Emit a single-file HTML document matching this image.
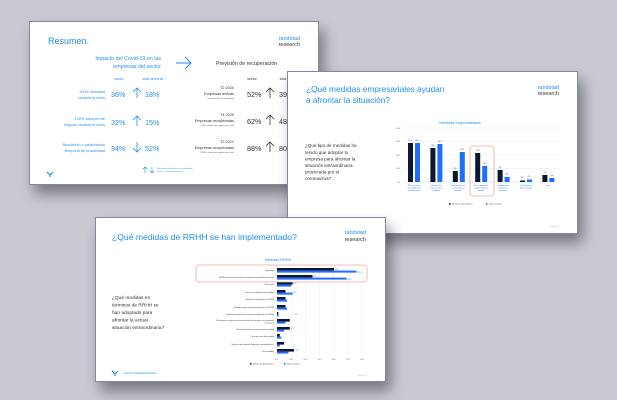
<!DOCTYPE html>
<html><head><meta charset="utf-8"><style>
html,body{margin:0;padding:0;background:#c9c8d3;}
svg{display:block;font-family:"Liberation Sans",sans-serif;}
</style></head><body>
<svg width="617" height="400" viewBox="0 0 617 400" xmlns="http://www.w3.org/2000/svg">
<defs>
<filter id="sh" x="-20%" y="-20%" width="150%" height="170%">
<feGaussianBlur in="SourceAlpha" stdDeviation="7"/>
<feOffset dx="5" dy="9"/>
<feComponentTransfer><feFuncA type="linear" slope="0.4"/></feComponentTransfer>
<feMerge><feMergeNode/><feMergeNode in="SourceGraphic"/></feMerge>
</filter>
</defs>
<rect width="617" height="400" fill="#c9c8d3"/>

<!-- SLIDE 1 -->
<rect x="29.5" y="21.5" width="289" height="163" fill="#fff" stroke="#7f8aa0" filter="url(#sh)"/>
<text x="48" y="44" font-size="9" fill="#1f8ef0">Resumen.</text>
<text x="300" y="40" font-size="5.5" fill="#1f8ef0" text-anchor="end">randstad</text>
<text x="300" y="46" font-size="5.5" fill="#333" text-anchor="end">research</text>
<text x="161" y="60" font-size="5.3" fill="#1f8ef0" text-anchor="end">Impacto del Covid-19 en las</text>
<text x="161" y="68" font-size="5.3" fill="#1f8ef0" text-anchor="end">empresas del sector</text>
<path d="M176 63 H191 M185 57 L191 63 L185 69" stroke="#1f8ef0" stroke-width="1" fill="none"/>
<text x="216" y="65" font-size="5.3" fill="#333">Previsión de recuperación</text>
<g font-size="3.5" fill="#1f8ef0" text-anchor="middle"><text x="119" y="80">sector</text><text x="153" y="80">total sectores</text></g>
<g font-size="3.5" fill="#333" text-anchor="middle"><text x="252" y="80">sector</text><text x="290" y="80">total sectores</text></g>
<g font-size="3.8" fill="#1f8ef0" text-anchor="end">
<text x="105" y="93">100% actividad</text><text x="105" y="99">durante la crisis</text>
<text x="105" y="120">100% volumen de</text><text x="105" y="126">negocio durante la crisis</text>
<text x="105" y="146">Reducción o paralización</text><text x="105" y="152">temporal de la actividad</text>
</g>
<g font-size="7.2" fill="#1f8ef0">
<text x="111" y="97">36%</text><text x="145" y="97">18%</text>
<text x="111" y="125">32%</text><text x="145" y="125">15%</text>
<text x="111" y="151">34%</text><text x="145" y="151">52%</text>
</g>
<g stroke="#1f8ef0" stroke-width="0.8" fill="none">
<path d="M137 98 V88 M133 92 L137 88 L141 92"/>
<path d="M137 126 V116 M133 120 L137 116 L141 120"/>
<path d="M137 142 V152 M133 148 L137 152 L141 148"/>
</g>
<g font-size="3.8" fill="#333" text-anchor="end">
<text x="234" y="89">T2 2020</text><text x="234" y="95">Empresas activas</text>
<text x="234" y="116">T4 2020</text><text x="234" y="122">Empresas recuperadas</text>
<text x="234" y="143">T2 2021</text><text x="234" y="149">Empresas recuperadas</text>
</g>
<g font-size="2" fill="#555" text-anchor="end">
<text x="234" y="99">(funcionando con normalidad)</text>
<text x="234" y="126">(100% volumen de negocio pre-crisis)</text>
<text x="234" y="153">(100% volumen de negocio pre-crisis)</text>
</g>
<g font-size="7.2" fill="#333">
<text x="247" y="97">52%</text><text x="279" y="97">39%</text>
<text x="247" y="124">62%</text><text x="279" y="124">48%</text>
<text x="247" y="151">88%</text><text x="279" y="151">80%</text>
</g>
<g stroke="#333" stroke-width="0.8" fill="none">
<path d="M270 98 V88 M266 92 L270 88 L274 92"/>
<path d="M270 125 V115 M266 119 L270 115 L274 119"/>
<path d="M270 152 V142 M266 146 L270 142 L274 146"/>
</g>
<path d="M47 172 L50 175 L53 172 M50 175 L50 177" stroke="#1f8ef0" stroke-width="1.2" fill="none"/>
<g stroke="#1f8ef0" stroke-width="0.6" fill="none"><path d="M145 173 V167 M143 169 L145 167 L147 169"/><path d="M152 167 V173 M150 171 L152 173 L154 171"/></g>
<g font-size="2" fill="#1f8ef0"><text x="157" y="169">Diferencia estadísticamente significativa</text><text x="157" y="172">al 95 % a nivel total sectores</text></g>

<!-- SLIDE 2 -->
<rect x="287.5" y="71.5" width="290" height="162" fill="#fff" stroke="#7f8aa0" filter="url(#sh)"/>
<text x="306" y="92" font-size="8.3" fill="#1f8ef0">¿Qué medidas empresariales ayudan</text>
<text x="306" y="103" font-size="8.3" fill="#1f8ef0">a afrontar la situación?</text>
<text x="559" y="89" font-size="5.5" fill="#1f8ef0" text-anchor="end">randstad</text>
<text x="559" y="95" font-size="5.5" fill="#333" text-anchor="end">research</text>
<g font-size="4.6" fill="#333">
<text x="305" y="147">¿Qué tipo de medidas ha</text>
<text x="305" y="154">tenido que adoptar tu</text>
<text x="305" y="160.5">empresa para afrontar la</text>
<text x="305" y="167">situación extraordinaria</text>
<text x="305" y="173.5">provocada por el</text>
<text x="305" y="180">coronavirus?</text>
</g>
<text x="460" y="124" font-size="4" fill="#1f8ef0" text-anchor="middle">Medidas empresariales</text>
<g stroke="#dde6f3" stroke-width="0.4"><path d="M403 128H560M403 141.5H560M403 155H560M403 168.5H560"/></g>
<path d="M403 182H560" stroke="#c8d0dc" stroke-width="0.4"/>
<g font-size="2" fill="#555" text-anchor="end"><text x="400" y="129">40%</text><text x="400" y="142">30%</text><text x="400" y="156">20%</text><text x="400" y="169">10%</text><text x="400" y="183">0%</text></g>
<g fill="#0b1633">
<rect x="408" y="143" width="5" height="39"/><rect x="430.4" y="148" width="5" height="34"/><rect x="452.8" y="171" width="5" height="11"/><rect x="475.2" y="153" width="5" height="29"/><rect x="497.6" y="170" width="5" height="12"/><rect x="520" y="180.5" width="5" height="1.5"/><rect x="542.4" y="175" width="5" height="7"/>
</g>
<g fill="#1f6fff">
<rect x="415" y="143" width="5" height="39"/><rect x="437.4" y="144" width="5" height="38"/><rect x="459.8" y="152" width="5" height="30"/><rect x="482.2" y="166" width="5" height="16"/><rect x="504.6" y="177" width="5" height="5"/><rect x="527" y="179.5" width="5" height="2.5"/><rect x="549.4" y="178" width="5" height="4"/>
</g>
<g font-size="1.8" fill="#333" text-anchor="middle">
<text x="410" y="141">29%</text><text x="417" y="141">29%</text><text x="433" y="146">25%</text><text x="440" y="142">28%</text><text x="455" y="169">8%</text><text x="462" y="150">22%</text><text x="478" y="151">21%</text><text x="485" y="164">12%</text><text x="500" y="168">9%</text><text x="507" y="175">4%</text><text x="522" y="178">1%</text><text x="529" y="177">2%</text><text x="545" y="173">5%</text><text x="552" y="176">3%</text>
</g>
<g font-size="1.9" fill="#1f6fff" text-anchor="middle">
<text x="414" y="186">Reservas para</text><text x="414" y="188.5">necesidades de</text><text x="414" y="191">mantenimiento</text>
<text x="436" y="186">Medidas de</text><text x="436" y="188.5">reducción de la</text><text x="436" y="191">actividad</text>
<text x="458" y="186">Paralización total</text><text x="458" y="188.5">o parcial de la</text><text x="458" y="191">actividad</text>
<text x="481" y="186">No he tenido que</text><text x="481" y="188.5">adoptar ninguna</text><text x="481" y="191">medida</text>
<text x="503" y="186">Medidas para</text><text x="503" y="188.5">afrontar un</text><text x="503" y="191">aumento</text>
<text x="526" y="186">Cese definitivo</text><text x="526" y="188.5">de la actividad</text>
<text x="548" y="186">Otras</text>
</g>
<rect x="470" y="146" width="24" height="50" rx="3" fill="none" stroke="#f2a89c" stroke-width="0.8"/>
<rect x="449" y="203" width="1.5" height="1.5" fill="#0b1633"/><text x="452" y="204.5" font-size="2" fill="#333">Sector de alimentación</text>
<rect x="486" y="203" width="1.5" height="1.5" fill="#1f6fff"/><text x="489" y="204.5" font-size="2" fill="#333">Total sectores</text>
<text x="560" y="227" font-size="2" fill="#aab" text-anchor="end">Covid-19 · 3</text>

<!-- SLIDE 3 -->
<rect x="95.5" y="217.5" width="290" height="164" fill="#fff" stroke="#7f8aa0" filter="url(#sh)"/>
<text x="112" y="240" font-size="8.6" fill="#1f8ef0">¿Qué medidas de RRHH se han implementado?</text>
<text x="366" y="234" font-size="5.5" fill="#1f8ef0" text-anchor="end">randstad</text>
<text x="366" y="241" font-size="5.5" fill="#333" text-anchor="end">research</text>
<g font-size="4.8" fill="#333">
<text x="112" y="299">¿Qué medidas en</text>
<text x="112" y="306.5">términos de RRHH se</text>
<text x="112" y="314">han adoptado para</text>
<text x="112" y="321.5">afrontar la actual</text>
<text x="112" y="329">situación extraordinaria?</text>
</g>
<text x="278" y="261" font-size="3.8" fill="#1f8ef0" text-anchor="middle">Medidas RRHH</text>
<g stroke="#dde6f3" stroke-width="0.4"><path d="M291.2 266V355M305.4 266V355M319.6 266V355M333.8 266V355M348 266V355M362.2 266V355"/></g>
<path d="M277 266V355" stroke="#c8d0dc" stroke-width="0.4"/>
<g font-size="2" fill="#1f6fff" text-anchor="middle"><text x="277" y="360">0%</text><text x="291.2" y="360">10%</text><text x="305.4" y="360">20%</text><text x="319.6" y="360">30%</text><text x="333.8" y="360">40%</text><text x="348" y="360">50%</text><text x="362.2" y="360">60%</text></g>
<g font-size="1.9" fill="#333" text-anchor="end">
<text x="274" y="271">Teletrabajo</text>
<text x="274" y="278">ERTE (reducción de jornada o suspensión temporal de contratos)</text>
<text x="274" y="285">Vacaciones</text>
<text x="274" y="293">Permisos retribuidos recuperables</text>
<text x="274" y="300">Reducción de jornada (sin ERTE)</text>
<text x="274" y="308">Suspensión de contratos temporales (sin ERTE)</text>
<text x="274" y="315">Suspensión temporal de contratos indefinidos (sin ERTE)</text>
<text x="274" y="321">Paralización de procesos de contratación (se aborten o se ralentizan)</text><text x="274" y="323.5">en proceso</text>
<text x="274" y="330">Nuevas contrataciones (por mayor actividad)</text>
<text x="274" y="337">Cierre por cese de actividad</text>
<text x="274" y="345">Extinción de contratos (bajas por enfermedad etc.)</text>
<text x="274" y="352">Otras medidas</text>
</g>
<g fill="#0b1633">
<rect x="277" y="268" width="57" height="2.6"/><rect x="277" y="275" width="35.5" height="2.6"/><rect x="277" y="282" width="15.6" height="2.6"/><rect x="277" y="290" width="8.5" height="2.6"/><rect x="277" y="297" width="8.5" height="2.6"/><rect x="277" y="305" width="8.5" height="2.6"/><rect x="277" y="312" width="1.4" height="2.6"/><rect x="277" y="319" width="12.8" height="2.6"/><rect x="277" y="327" width="12.8" height="2.6"/><rect x="277" y="334" width="2.8" height="2.6"/><rect x="277" y="342" width="7.1" height="2.6"/><rect x="277" y="349" width="17" height="2.6"/>
</g>
<g fill="#1f6fff">
<rect x="277" y="270.6" width="79.5" height="2"/><rect x="277" y="277.6" width="69.6" height="2"/><rect x="277" y="284.6" width="14.2" height="2"/><rect x="277" y="292.6" width="15.6" height="2"/><rect x="277" y="299.6" width="10" height="2"/><rect x="277" y="307.6" width="10" height="2"/><rect x="277" y="314.6" width="1.4" height="2"/><rect x="277" y="321.6" width="8.5" height="2"/><rect x="277" y="329.6" width="7.1" height="2"/><rect x="277" y="336.6" width="4.3" height="2"/><rect x="277" y="344.6" width="2.8" height="2"/><rect x="277" y="351.6" width="11.4" height="2"/>
</g>
<g font-size="1.9" fill="#1f6fff"><text x="335" y="270">40%</text><text x="357.5" y="273">56%</text><text x="313" y="277">25%</text><text x="347.5" y="280">49%</text><text x="293" y="284">11%</text><text x="293" y="293">11%</text><text x="295" y="315">1%</text><text x="291" y="329">9%</text><text x="295" y="351">12%</text></g>
<rect x="196" y="265" width="171" height="17" rx="3" fill="none" stroke="#f2a89c" stroke-width="0.8"/>
<rect x="250" y="363" width="1.5" height="1.5" fill="#0b1633"/><text x="253" y="364.5" font-size="2" fill="#333">Sector de alimentación</text>
<rect x="284" y="363" width="1.5" height="1.5" fill="#1f6fff"/><text x="287" y="364.5" font-size="2" fill="#333">Total sectores</text>
<path d="M112 371 L115 374 L118 371 M115 374 L115 376" stroke="#1f8ef0" stroke-width="1.2" fill="none"/>
<text x="124" y="374" font-size="2.6" fill="#1f8ef0">Fuente: Randstad Research</text>
<text x="368" y="376" font-size="2" fill="#aab" text-anchor="end">Covid-19 · 2</text>
</svg>
</body></html>
